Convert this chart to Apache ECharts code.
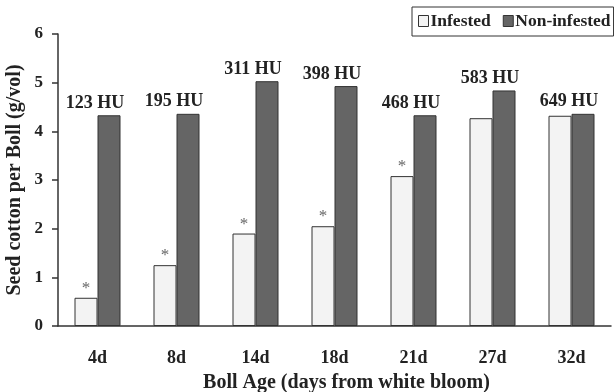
<!DOCTYPE html>
<html>
<head>
<meta charset="utf-8">
<script src="https://cdn.jsdelivr.net/npm/echarts@6/dist/echarts.min.js"></script>
<style>html,body{margin:0;padding:0;background:#fff;}#c{width:614px;height:392px;}</style>
</head>
<body>
<div id="c"></div>
<script>
var categories = ['4d', '8d', '14d', '18d', '21d', '27d', '32d'];
var infested = [0.58, 1.25, 1.90, 2.05, 3.08, 4.27, 4.32];
var nonInfested = [4.33, 4.36, 5.03, 4.93, 4.33, 4.84, 4.36];
var heatUnits = ['123 HU', '195 HU', '311 HU', '398 HU', '468 HU', '583 HU', '649 HU'];
var significant = ['*', '*', '*', '*', '*', '', ''];
var yTicks = [0, 1, 2, 3, 4, 5, 6];

var serif = '"Liberation Serif", "DejaVu Serif", serif';
var chart = echarts.init(document.getElementById('c'), null, {renderer: 'canvas'});
chart.setOption({
  backgroundColor: '#ffffff',
  animation: false,
  grid: {left: 58, right: 3, top: 34, bottom: 66, containLabel: false, outerBoundsMode: 'none'},
  legend: {
    left: 412, top: 7,
    padding: [5, 3, 6, 6],
    borderColor: '#333', borderWidth: 1,
    itemWidth: 10, itemHeight: 11, itemGap: 12,
    textStyle: {fontFamily: serif, fontWeight: 'bold', fontSize: 17.5, color: '#222', padding: [0, 0, 0, -3]},
    data: [
      {name: 'Infested', icon: 'rect', itemStyle: {color: '#f3f3f3', borderColor: '#333', borderWidth: 1}},
      {name: 'Non-infested', icon: 'rect', itemStyle: {color: '#656565', borderColor: '#333', borderWidth: 1}}
    ]
  },
  xAxis: {
    type: 'category',
    data: categories,
    axisLine: {lineStyle: {color: '#333', width: 1.5}},
    axisTick: {show: false},
    axisLabel: {fontFamily: serif, fontWeight: 'bold', fontSize: 18, color: '#222', margin: 23},
    name: 'Boll Age (days from white bloom)',
    nameLocation: 'middle',
    nameGap: 47,
    nameMoveOverlap: false,
    nameTextStyle: {fontFamily: serif, fontWeight: 'bold', fontSize: 20, color: '#222', padding: [0, 0, 0, 24]}
  },
  yAxis: {
    type: 'value',
    min: yTicks[0], max: yTicks[yTicks.length - 1], interval: 1,
    axisLine: {show: true, lineStyle: {color: '#333', width: 1.5}},
    axisTick: {show: true, length: 6, lineStyle: {color: '#333', width: 1.5}},
    splitLine: {show: false},
    axisLabel: {fontFamily: serif, fontWeight: 'bold', fontSize: 17, color: '#222', margin: 15},
    name: 'Seed cotton per Boll (g/vol)',
    nameLocation: 'middle',
    nameGap: 33,
    nameMoveOverlap: false,
    nameTextStyle: {fontFamily: serif, fontWeight: 'bold', fontSize: 20, color: '#222'}
  },
  series: [
    {
      name: 'Infested', type: 'bar', data: infested,
      barWidth: 23, barGap: '0%',
      itemStyle: {color: '#f3f3f3', borderColor: '#333', borderWidth: 1},
      label: {
        show: true, position: 'top', distance: 1,
        formatter: function (p) { return significant[p.dataIndex]; },
        fontFamily: serif, fontSize: 17, color: '#666'
      }
    },
    {
      name: 'Non-infested', type: 'bar', data: nonInfested,
      barWidth: 23,
      itemStyle: {color: '#656565', borderColor: '#333', borderWidth: 1},
      label: {
        show: true, position: 'top', distance: 3, offset: [-14, 0],
        formatter: function (p) { return heatUnits[p.dataIndex]; },
        fontFamily: serif, fontWeight: 'bold', fontSize: 18, color: '#222'
      }
    }
  ]
});
</script>
</body>
</html>
